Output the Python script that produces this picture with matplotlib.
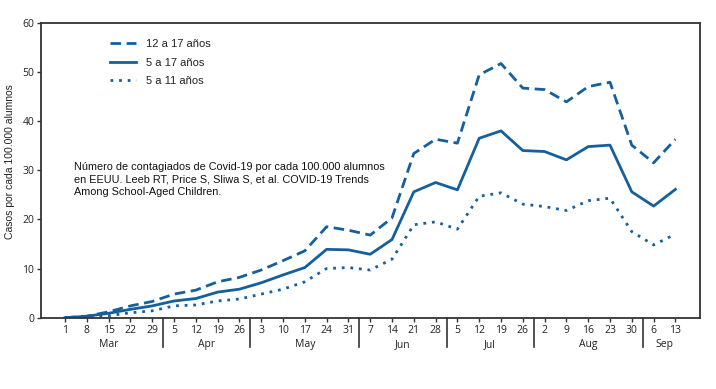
import matplotlib
matplotlib.use("Agg")
import matplotlib.pyplot as plt
from matplotlib.transforms import blended_transform_factory

week_labels = ["1", "8", "15", "22", "29",
               "5", "12", "19", "26",
               "3", "10", "17", "24", "31",
               "7", "14", "21", "28",
               "5", "12", "19", "26",
               "2", "9", "16", "23", "30",
               "6", "13"]
months = ["Mar", "Apr", "May", "Jun", "Jul", "Aug", "Sep"]
weeks_per_month = [5, 4, 5, 4, 4, 5, 2]

age_12_17 = [0.0, 0.3, 1.2, 2.4, 3.3, 4.8, 5.6, 7.3, 8.2, 9.7, 11.6, 13.6, 18.5, 17.8,
             16.8, 20.3, 33.4, 36.3, 35.5, 49.4, 51.7, 46.7, 46.4, 43.9, 47.0, 47.9,
             35.1, 31.5, 36.3]
age_5_17 = [0.0, 0.3, 0.9, 1.7, 2.4, 3.4, 3.9, 5.2, 5.8, 7.1, 8.7, 10.2, 13.9, 13.8,
            12.9, 15.9, 25.6, 27.5, 26.0, 36.5, 38.0, 34.0, 33.8, 32.1, 34.8, 35.1,
            25.6, 22.7, 26.1]
age_5_11 = [0.0, 0.1, 0.4, 1.0, 1.4, 2.4, 2.6, 3.4, 3.8, 4.8, 5.8, 7.3, 10.0, 10.2,
            9.7, 11.9, 18.9, 19.5, 18.0, 24.7, 25.4, 23.1, 22.6, 21.8, 23.8, 24.3,
            17.5, 14.8, 17.0]

series_labels = ["12 a 17 años", "5 a 17 años", "5 a 11 años"]
ylabel = "Casos por cada 100.000 alumnos"
note = ("Número de contagiados de Covid-19 por cada 100.000 alumnos\n"
        "en EEUU. Leeb RT, Price S, Sliwa S, et al. COVID-19 Trends\n"
        "Among School-Aged Children.")

color = "#15609c"
axis_color = "#333333"
plt.rcParams['font.family'] = ['Liberation Sans', 'DejaVu Sans']

fig = plt.figure(figsize=(7.16, 3.89), dpi=100)
ax = fig.add_axes([0.0573, 0.1833, 0.9204, 0.7583])

x = list(range(len(week_labels)))
lw = 2.0
ax.plot(x, age_12_17, color=color, lw=lw, linestyle=(0, (3.8, 2.0)), label=series_labels[0])
ax.plot(x, age_5_17, color=color, lw=lw, linestyle='-', label=series_labels[1])
ax.plot(x, age_5_11, color=color, lw=lw, linestyle=(0, (1.0, 2.1)), label=series_labels[2])

ax.set_xlim(-1.1, 29.13)
ax.set_ylim(0, 60)
ax.set_yticks([0, 10, 20, 30, 40, 50, 60])
ax.set_xticks(x)
ax.set_xticklabels(week_labels, fontfamily='Open Sans', fontsize=7.5)
for t in ax.get_yticklabels():
    t.set_fontfamily('Open Sans')
    t.set_fontsize(7.5)
ax.tick_params(axis='both', direction='out', length=3, width=1, color=axis_color,
               labelcolor='#222222', pad=2)
for s in ax.spines.values():
    s.set_color(axis_color)
    s.set_linewidth(1.3)

trans = blended_transform_factory(ax.transData, ax.transAxes)
start = 0
for m, n in zip(months, weeks_per_month):
    center = start + (n - 1) / 2
    ax.text(center, -0.0925, m, transform=trans, ha='center', va='center',
            fontfamily='Open Sans', fontsize=7.5, color='#222222')
    if start > 0:
        ax.plot([start - 0.5, start - 0.5], [0, -0.1], transform=trans,
                color=axis_color, lw=1.2, clip_on=False)
    start += n

fig.text(10 / 716, (389 - 162) / 389, ylabel, rotation=90, ha='center', va='center',
         fontsize=7.5, color='#222222')

ax.text(0.050, 0.527, note, transform=ax.transAxes, ha='left', va='top',
        fontsize=7.8, linespacing=1.28, color='#111111')

leg = ax.legend(loc='upper left', bbox_to_anchor=(0.1047, 0.945), frameon=False,
                fontsize=8, handlelength=2.3, handletextpad=0.9, labelspacing=0.78,
                borderpad=0, borderaxespad=0)
for t in leg.get_texts():
    t.set_color('#222222')

fig.savefig("out.png", dpi=100)
